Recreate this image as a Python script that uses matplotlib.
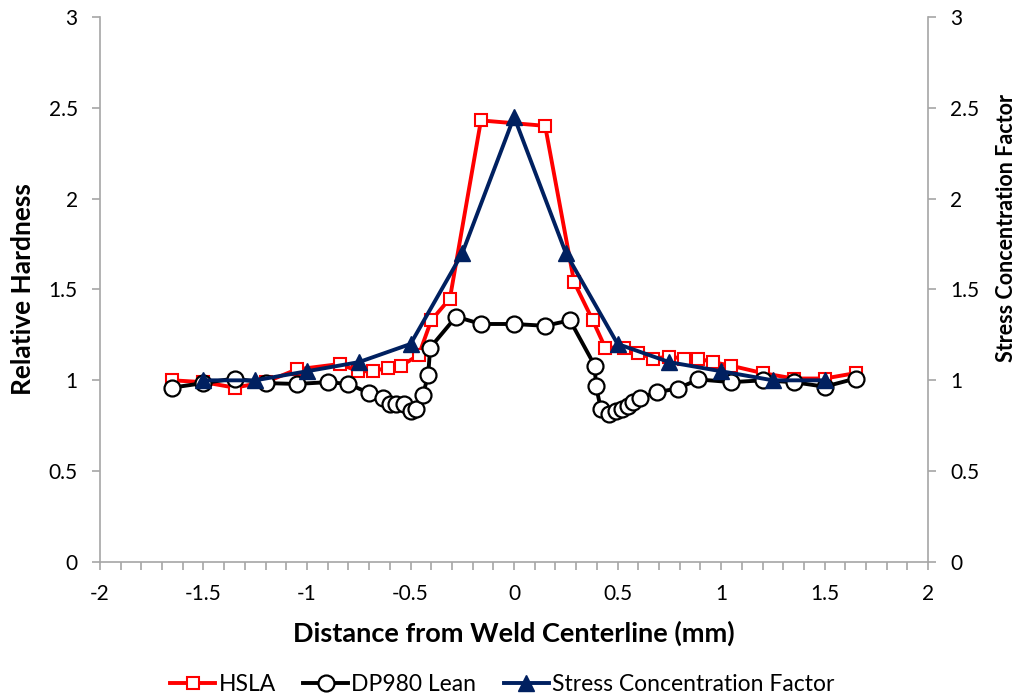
import matplotlib
matplotlib.use("Agg")
import matplotlib.pyplot as plt
from matplotlib.ticker import MultipleLocator

# Relative hardness profiles across the weld
hsla_x = [-1.65, -1.5, -1.35, -1.2, -1.05, -0.84, -0.755, -0.68, -0.61, -0.545, -0.46,
          -0.40, -0.31, -0.16, 0.15, 0.29, 0.38, 0.44, 0.53, 0.60, 0.67, 0.75, 0.82,
          0.89, 0.96, 1.05, 1.20, 1.35, 1.50, 1.65]
hsla_y = [1.00, 0.99, 0.96, 0.99, 1.06, 1.09, 1.05, 1.05, 1.07, 1.08, 1.14,
          1.33, 1.45, 2.43, 2.40, 1.54, 1.33, 1.18, 1.18, 1.15, 1.12, 1.13, 1.12,
          1.12, 1.10, 1.08, 1.04, 1.01, 1.01, 1.04]

dp980_x = [-1.65, -1.5, -1.35, -1.2, -1.05, -0.9, -0.8, -0.7, -0.635, -0.60, -0.57,
           -0.53, -0.50, -0.475, -0.44, -0.415, -0.405, -0.28, -0.16, 0.0, 0.15, 0.27,
           0.39, 0.395, 0.42, 0.46, 0.49, 0.52, 0.55, 0.575, 0.61, 0.69, 0.79, 0.89,
           1.05, 1.20, 1.35, 1.50, 1.65]
dp980_y = [0.96, 0.985, 1.01, 0.985, 0.98, 0.99, 0.98, 0.93, 0.905, 0.87, 0.87,
           0.87, 0.83, 0.84, 0.92, 1.03, 1.18, 1.35, 1.31, 1.31, 1.30, 1.33,
           1.08, 0.97, 0.84, 0.815, 0.83, 0.845, 0.86, 0.88, 0.905, 0.935, 0.955, 1.005,
           0.99, 1.00, 0.99, 0.965, 1.01]

# Stress concentration factor (secondary axis)
scf_x = [-1.5, -1.25, -1.0, -0.75, -0.5, -0.25, 0.0, 0.25, 0.5, 0.75, 1.0, 1.25, 1.5]
scf_y = [1.00, 1.00, 1.05, 1.10, 1.20, 1.70, 2.45, 1.70, 1.20, 1.10, 1.05, 1.00, 1.00]

x_ticks = [-2, -1.5, -1, -0.5, 0, 0.5, 1, 1.5, 2]
x_tick_labels = ["-2", "-1.5", "-1", "-0.5", "0", "0.5", "1", "1.5", "2"]
y_ticks = [0, 0.5, 1, 1.5, 2, 2.5, 3]
y_tick_labels = ["0", "0.5", "1", "1.5", "2", "2.5", "3"]

plt.rcParams["font.family"] = ["Lato", "DejaVu Sans"]

RED = "#ff0000"
NAVY = "#002060"
SPINE = "#a6a6a6"

fig = plt.figure(figsize=(10.2, 7.0), dpi=100)
ax = fig.add_axes([0.098, 0.197, 0.812, 0.779])
ax2 = ax.twinx()

h1, = ax.plot(hsla_x, hsla_y, color=RED, lw=2.8, marker="s", ms=8.5,
              mfc="white", mec=RED, mew=1.5, label="HSLA", zorder=3)
h2, = ax.plot(dp980_x, dp980_y, color="black", lw=2.8, marker="o", ms=11.5,
              mfc="white", mec="black", mew=1.6, label="DP980 Lean", zorder=4)
h3, = ax2.plot(scf_x, scf_y, color=NAVY, lw=2.8, marker="^", ms=11,
               mfc=NAVY, mec=NAVY, label="Stress Concentration Factor", zorder=5)

for a in (ax, ax2):
    a.set_xlim(-2, 2)
    a.set_ylim(0, 3)
    a.set_yticks(y_ticks)
    a.spines["top"].set_visible(False)
    for s in ("left", "right", "bottom"):
        a.spines[s].set_color(SPINE)
        a.spines[s].set_linewidth(1.2)
    a.tick_params(axis="both", which="both", color=SPINE, width=1.2, length=6,
                  labelsize=15, direction="out")

ax.set_yticklabels(y_tick_labels)
ax2.set_yticklabels(y_tick_labels)
ax.spines["right"].set_visible(False)
ax2.spines["left"].set_visible(False)
ax2.spines["bottom"].set_visible(False)

ax.set_xticks(x_ticks)
ax.set_xticklabels(x_tick_labels)
ax.xaxis.set_minor_locator(MultipleLocator(0.1))
ax.tick_params(axis="x", which="minor", length=6, color=SPINE, width=1.2)
ax.tick_params(axis="x", which="major", pad=10)
ax.tick_params(axis="y", pad=10)
ax2.tick_params(axis="y", pad=10)

ax.set_xlabel("Distance from Weld Centerline (mm)", fontsize=19.5, fontweight="bold", labelpad=12)
ax.set_ylabel("Relative Hardness", fontsize=19, fontweight="bold", labelpad=10)
ax2.set_ylabel("Stress Concentration Factor", fontsize=15.5, fontweight="bold",
               rotation=90, ha="center", va="center")
ax2.yaxis.set_label_coords(1.095, 0.613)

fig.legend(handles=[h1, h2, h3], loc="lower center", bbox_to_anchor=(0.4926, -0.022),
           ncol=3, frameon=False, fontsize=16.5, handlelength=1.95, handletextpad=0.15,
           columnspacing=1.2)

fig.savefig("out.png", dpi=100, facecolor="white")
